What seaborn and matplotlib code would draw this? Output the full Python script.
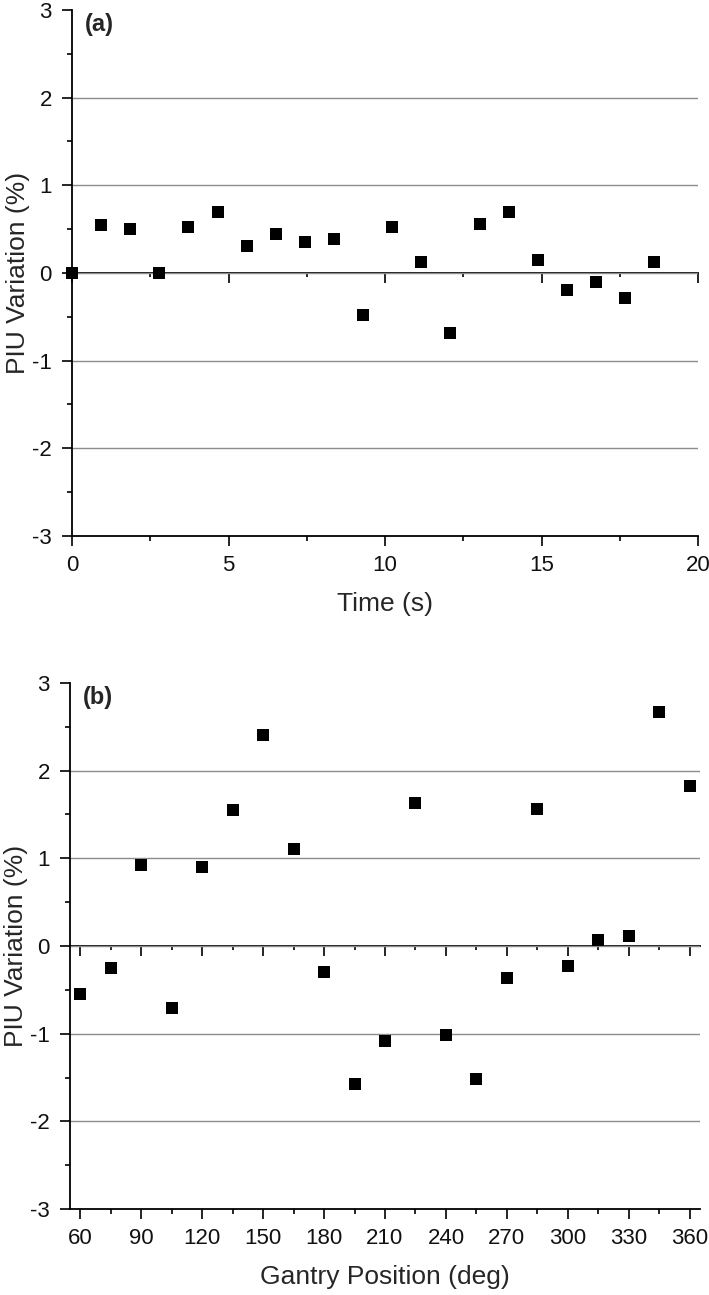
import matplotlib
matplotlib.use("Agg")
import matplotlib.pyplot as plt
import seaborn as sns
from matplotlib.ticker import MultipleLocator, NullFormatter

# (a) variacao do PIU ao longo do tempo
tempo = [0.00, 0.93, 1.86, 2.79, 3.72, 4.65, 5.58, 6.51, 7.44, 8.37, 9.30,
         10.23, 11.16, 12.09, 13.02, 13.95, 14.88, 15.81, 16.74, 17.67, 18.60]
piu_tempo = [0.00, 0.55, 0.50, 0.00, 0.52, 0.70, 0.31, 0.44, 0.35, 0.39, -0.48,
             0.52, 0.13, -0.68, 0.56, 0.70, 0.15, -0.19, -0.10, -0.28, 0.13]

# (b) variacao do PIU com a posicao do gantry
gantry = [60, 75, 90, 105, 120, 135, 150, 165, 180, 195, 210,
          225, 240, 255, 270, 285, 300, 315, 330, 345, 360]
piu_gantry = [-0.55, -0.25, 0.92, -0.71, 0.90, 1.55, 2.41, 1.11, -0.30, -1.57, -1.08,
              1.63, -1.02, -1.52, -0.37, 1.56, -0.23, 0.07, 0.11, 2.67, 1.82]

sns.set_style("ticks")
plt.rcParams['font.family'] = ['Liberation Sans', 'DejaVu Sans']
plt.rcParams['axes.unicode_minus'] = False

fig = plt.figure(figsize=(7.09, 12.95), dpi=100)
ax_a = fig.add_axes([0.1016, 0.5861, 0.8829, 0.4062])
ax_b = fig.add_axes([0.0987, 0.0664, 0.8886, 0.4062])


def estilo(ax, xlim, xmaj, xmin, rotulo, letra):
    ax.set_xlim(*xlim)
    ax.set_ylim(-3, 3)
    ax.set_yticks(range(-3, 4))
    ax.yaxis.set_minor_locator(MultipleLocator(0.5))
    ax.xaxis.set_major_locator(MultipleLocator(xmaj))
    ax.xaxis.set_minor_locator(MultipleLocator(xmin))
    sns.despine(ax=ax)
    for lado in ["left", "bottom"]:
        ax.spines[lado].set_linewidth(1.3)
        ax.spines[lado].set_color("black")
    ax.tick_params(which="major", length=7, width=1.2, direction="out",
                   labelsize=16, color="black", labelcolor="#111111")
    ax.tick_params(axis="x", which="major", pad=7)
    ax.tick_params(axis="y", which="major", pad=7.5)
    ax.tick_params(which="minor", length=3.5, width=1.2, direction="out", color="black")
    ax.grid(axis="y", which="major", color="#8c8c8c", linewidth=1.0)
    ax.grid(axis="x", visible=False)
    ticks = ax.yaxis.get_major_ticks()
    for tick, loc in zip(ticks, ax.get_yticks()):
        if abs(loc) > 2.5:
            tick.gridline.set_visible(False)

    # eixo na linha do zero
    zero = ax.secondary_xaxis(0.5)
    zero.set_alignment("bottom")
    zero.xaxis.set_major_locator(MultipleLocator(xmaj))
    zero.xaxis.set_minor_locator(MultipleLocator(xmin))
    zero.xaxis.set_major_formatter(NullFormatter())
    zero.tick_params(which="major", length=7.5, width=1.2, color="black")
    zero.tick_params(which="minor", length=3, width=1.2, color="black")
    zero.spines["bottom"].set_linewidth(1.3)
    zero.spines["bottom"].set_color("black")

    ax.set_xlabel(rotulo, fontsize=19, labelpad=11)
    ax.set_ylabel("PIU Variation (%)", fontsize=19, labelpad=1.5)
    ax.text(0.02, 0.995, letra, transform=ax.transAxes, fontsize=17,
            fontweight="bold", va="top", ha="left")


sns.scatterplot(x=tempo, y=piu_tempo, ax=ax_a, marker="s", s=72,
                color="black", linewidth=0, zorder=5, clip_on=False)
estilo(ax_a, (0, 20), 5, 2.5, "Time (s)", "(a)")

sns.scatterplot(x=gantry, y=piu_gantry, ax=ax_b, marker="s", s=72,
                color="black", linewidth=0, zorder=5, clip_on=False)
estilo(ax_b, (55, 365), 30, 15, "Gantry Position (deg)", "(b)")

fig.savefig("out.png", dpi=100)
